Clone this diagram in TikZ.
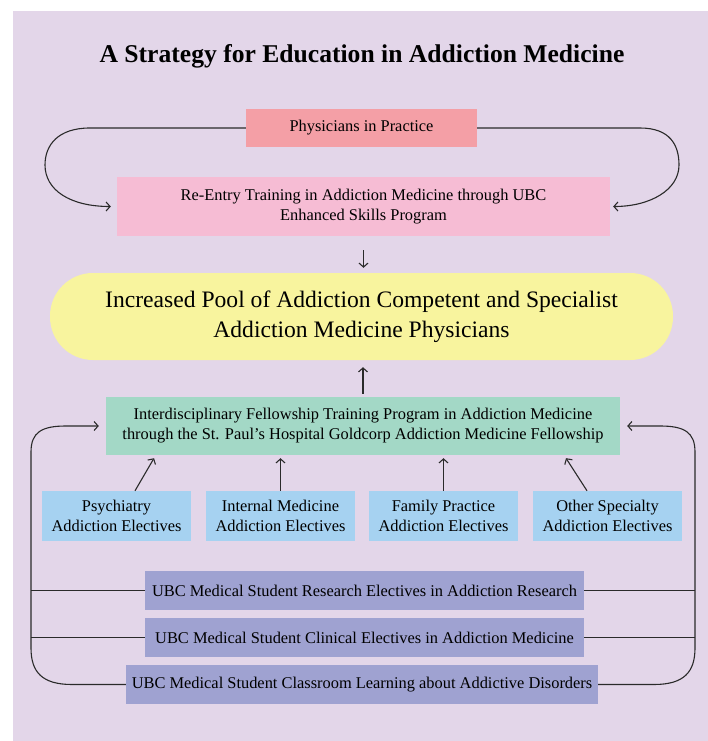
\documentclass[tikz,border=0pt]{standalone}
\usepackage{fontspec}
\setmainfont{Liberation Serif}
\usetikzlibrary{arrows.meta,calc}

\definecolor{panelbg}{HTML}{E3D6E9}
\definecolor{practicefill}{HTML}{F49FA6}
\definecolor{reentryfill}{HTML}{F6BCD4}
\definecolor{poolfill}{HTML}{F8F49E}
\definecolor{fellowfill}{HTML}{A3D8C6}
\definecolor{electivefill}{HTML}{A6D2F1}
\definecolor{studentfill}{HTML}{9FA2D1}
\definecolor{linkcol}{HTML}{2A2A2A}

\tikzset{
  box/.style={inner sep=0pt, align=center, font=\fontsize{16.4}{20}\selectfont},
  practicebox/.style={box, fill=practicefill, minimum width=231pt, minimum height=38pt},
  reentrybox/.style={box, fill=reentryfill, minimum width=493pt, minimum height=59pt},
  poolbox/.style={inner sep=0pt, align=center, fill=poolfill, rounded corners=43pt,
    minimum width=623pt, minimum height=87pt, font=\fontsize{23.6}{30}\selectfont},
  fellowbox/.style={box, fill=fellowfill, minimum width=514pt, minimum height=58pt},
  electivebox/.style={box, fill=electivefill, minimum width=149pt, minimum height=50pt},
  studentbox/.style={box, fill=studentfill, minimum height=39pt},
  link/.style={draw=linkcol, line width=1.1pt},
  arrowlink/.style={link, -{Straight Barb[length=4pt,width=9pt]}},
}

\begin{document}
\begin{tikzpicture}[x=1pt, y=-1pt]
  % page and lavender panel
  \useasboundingbox (0,0) rectangle (708,741);
  \fill[white] (0,0) rectangle (708,741);
  \fill[panelbg] (13,11) rectangle (708,741);

  % title
  \node[anchor=base, inner sep=0pt, font=\fontsize{25.6}{30}\selectfont\bfseries]
    (title) at (362,63) {A Strategy for Education in Addiction Medicine};

  % upper part
  \node[practicebox] (phys) at (361.5,128) {Physicians in Practice};
  \node[reentrybox] (reentry) at (363.5,206.5)
    {Re-Entry Training in Addiction Medicine through UBC\\Enhanced Skills Program};
  \node[poolbox] (pool) at (361.5,316.5)
    {Increased Pool of Addiction Competent and Specialist\\Addiction Medicine Physicians};

  % fellowship and electives
  \node[fellowbox] (fellow) at (363,426)
    {Interdisciplinary Fellowship Training Program in Addiction Medicine\\through the St. Paul’s Hospital Goldcorp Addiction Medicine Fellowship};
  \node[electivebox] (psy) at (116.5,516) {Psychiatry\\Addiction Electives};
  \node[electivebox] (int) at (280.5,516) {Internal Medicine\\Addiction Electives};
  \node[electivebox] (fam) at (443.5,516) {Family Practice\\Addiction Electives};
  \node[electivebox] (oth) at (607.5,516) {Other Specialty\\Addiction Electives};

  % medical student stages
  \node[studentbox, minimum width=439pt] (res) at (364.5,590.5)
    {UBC Medical Student Research Electives in Addiction Research};
  \node[studentbox, minimum width=439pt] (cli) at (364.5,637.5)
    {UBC Medical Student Clinical Electives in Addiction Medicine};
  \node[studentbox, minimum width=472pt] (cls) at (362,684.5)
    {UBC Medical Student Classroom Learning about Addictive Disorders};

  % loops from practice into re-entry training
  \draw[arrowlink, shorten >=6pt] (phys.west) -- (90,128)
    .. controls (58,128) and (45,145) .. (45,165)
    .. controls (45,190) and (70,206.5) .. (reentry.west);
  \draw[arrowlink, shorten >=3pt] (phys.east) -- (640,128)
    .. controls (670,128) and (679,145) .. (679,165)
    .. controls (679,190) and (650,206.5) .. (reentry.east);

  % into the pool
  \draw[arrowlink, shorten <=14pt, shorten >=5pt] (reentry.south) -- (reentry.south |- pool.north);
  \draw[arrowlink, shorten <=3pt, shorten >=7pt] (fellow.north) -- (fellow.north |- pool.south);

  % electives into the fellowship
  \draw[arrowlink] ([xshift=18.5pt]psy.north) -- ([xshift=-209pt,yshift=-3pt]fellow.south);
  \draw[arrowlink, shorten >=3pt] (int.north) -- (int.north |- fellow.south);
  \draw[arrowlink, shorten >=3pt] (fam.north) -- (fam.north |- fellow.south);
  \draw[arrowlink] ([xshift=-20.5pt]oth.north) -- ([xshift=203pt,yshift=-3pt]fellow.south);

  % student stages feeding the fellowship from both sides
  \coordinate (lrail) at (31,590.5);
  \coordinate (rrail) at (695,590.5);
  \draw[arrowlink, shorten >=7pt] (cls.west) -- (72,684.5)
    .. controls (42,684.5) and (31,672) .. (31,648) -- (31,452)
    .. controls (31,432) and (42,426) .. (66,426) -- (fellow.west);
  \draw[arrowlink, shorten >=7pt] (cls.east) -- (654,684.5)
    .. controls (684,684.5) and (695,672) .. (695,648) -- (695,452)
    .. controls (695,432) and (684,426) .. (660,426) -- (fellow.east);
  \draw[link] (res.west) -- (lrail);
  \draw[link] (res.east) -- (rrail);
  \draw[link] (cli.west) -- (lrail |- cli.west);
  \draw[link] (cli.east) -- (rrail |- cli.east);
\end{tikzpicture}
\end{document}
